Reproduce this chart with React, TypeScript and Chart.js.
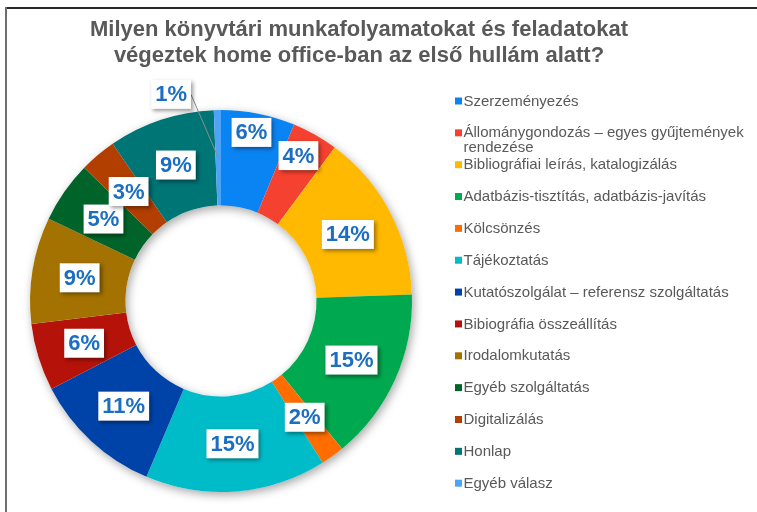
import React, { useEffect, useRef } from 'react';
import { Chart, registerables, layouts } from 'chart.js';

Chart.register(...registerables);

const titleLines = [
  'Milyen könyvtári munkafolyamatokat és feladatokat',
  'végeztek home office-ban az első hullám alatt?',
];

const categories = [
  'Szerzeményezés',
  'Állománygondozás – egyes gyűjtemények rendezése',
  'Bibliográfiai leírás, katalogizálás',
  'Adatbázis-tisztítás, adatbázis-javítás',
  'Kölcsönzés',
  'Tájékoztatás',
  'Kutatószolgálat – referensz szolgáltatás',
  'Bibiográfia összeállítás',
  'Irodalomkutatás',
  'Egyéb szolgáltatás',
  'Digitalizálás',
  'Honlap',
  'Egyéb válasz',
];

// share of answers (%); labels show rounded values
const values = [6.25, 3.9, 14.3, 14.6, 2.0, 15.3, 11.0, 5.7, 9.0, 5.2, 3.1, 9.0, 0.6];

const colors = [
  '#0B84F3', '#F5412F', '#FFB900', '#00A94F', '#FF6D00', '#00BCC8', '#0043A8',
  '#B5130A', '#A37200', '#00642A', '#B23E00', '#007575', '#4DA3F7',
];

const FONT = '"Liberation Sans", Arial, sans-serif';
const GREY = '#595959';

// label placement tweaks (radius factor relative to ring middle, angle shift in degrees)
const labelAdjust: Record<number, { r?: number; a?: number; leader?: boolean }> = {
  0: { r: 1.196, a: -1 },
  1: { r: 1.15, a: -1.5 },
  12: { r: 1.484, a: -12.5, leader: true },
};

const ringShadow = {
  id: 'ringShadow',
  beforeDatasetsDraw(chart: any) {
    const arc = chart.getDatasetMeta(0).data[0];
    if (!arc) return;
    const p = arc.getProps(['x', 'y', 'innerRadius', 'outerRadius'], true);
    const ctx = chart.ctx;
    ctx.save();
    ctx.shadowColor = 'rgba(0,0,0,0.35)';
    ctx.shadowBlur = 10;
    ctx.shadowOffsetX = 2;
    ctx.shadowOffsetY = 3;
    ctx.beginPath();
    ctx.arc(p.x, p.y, p.outerRadius, 0, Math.PI * 2);
    ctx.arc(p.x, p.y, p.innerRadius, 0, Math.PI * 2, true);
    ctx.fillStyle = '#ffffff';
    ctx.fill();
    ctx.restore();
  },
};

const pctLabels = {
  id: 'pctLabels',
  afterDatasetsDraw(chart: any) {
    const ctx = chart.ctx;
    const meta = chart.getDatasetMeta(0);
    ctx.save();
    ctx.font = `bold 22px ${FONT}`;
    ctx.textAlign = 'center';
    ctx.textBaseline = 'middle';
    meta.data.forEach((arc: any, i: number) => {
      const p = arc.getProps(['x', 'y', 'startAngle', 'endAngle', 'innerRadius', 'outerRadius'], true);
      const adj = labelAdjust[i] || {};
      const midA = (p.startAngle + p.endAngle) / 2;
      const midR = (p.innerRadius + p.outerRadius) / 2;
      const a = midA + ((adj.a || 0) * Math.PI) / 180;
      const r = midR * (adj.r || 1);
      const cx = p.x + Math.cos(a) * r;
      const cy = p.y + Math.sin(a) * r;
      const text = Math.round(values[i]) + '%';
      const w = ctx.measureText(text).width + 8;
      const h = 29;
      if (adj.leader) {
        ctx.save();
        ctx.strokeStyle = '#8c8c8c';
        ctx.lineWidth = 1;
        ctx.beginPath();
        ctx.moveTo(cx + w / 2, cy);
        ctx.lineTo(p.x + Math.cos(midA) * midR, p.y + Math.sin(midA) * midR);
        ctx.stroke();
        ctx.restore();
      }
      ctx.save();
      ctx.shadowColor = 'rgba(0,0,0,0.4)';
      ctx.shadowBlur = 4;
      ctx.shadowOffsetX = 2;
      ctx.shadowOffsetY = 2;
      ctx.fillStyle = '#ffffff';
      ctx.fillRect(cx - w / 2, cy - h / 2, w, h);
      ctx.restore();
      ctx.fillStyle = '#1B6EC2';
      ctx.fillText(text, cx, cy + 1);
    });
    ctx.restore();
  },
};

function wrapText(ctx: CanvasRenderingContext2D, text: string, maxW: number): string[] {
  const words = text.split(' ');
  const lines: string[] = [];
  let cur = '';
  for (const w of words) {
    const test = cur ? cur + ' ' + w : w;
    if (cur && ctx.measureText(test).width > maxW) {
      lines.push(cur);
      cur = w;
    } else cur = test;
  }
  if (cur) lines.push(cur);
  return lines;
}

const LEGEND_WIDTH = 276;

const sideLegend = {
  id: 'sideLegend',
  start(chart: any) {
    const box: any = {
      position: 'right',
      weight: 0,
      fullSize: false,
      options: { display: true, stack: undefined, stackWeight: 1 },
      left: 0, top: 0, right: 0, bottom: 0, width: 0, height: 0,
      update(_maxW: number, maxH: number) {
        this.width = LEGEND_WIDTH;
        this.height = maxH;
      },
      isHorizontal() {
        return false;
      },
      getPadding() {
        return { left: 0, right: 0, top: 0, bottom: 0 };
      },
      draw() {
        const ctx = chart.ctx;
        ctx.save();
        ctx.font = `15px ${FONT}`;
        ctx.textAlign = 'left';
        ctx.textBaseline = 'middle';
        const mx = this.left + 43;
        const tx = mx + 8.5;
        const maxW = chart.width - tx - 2;
        categories.forEach((label, i) => {
          const cy = this.top - 9 + i * 31.85;
          ctx.fillStyle = colors[i];
          ctx.fillRect(mx, cy - 3.5, 7, 7);
          ctx.fillStyle = GREY;
          wrapText(ctx, label, maxW).forEach((ln, j) => {
            ctx.fillText(ln, tx, cy + 0.5 + j * 14.5);
          });
        });
        ctx.restore();
      },
    };
    chart.$sideLegend = box;
    layouts.addBox(chart, box);
  },
  stop(chart: any) {
    if (chart.$sideLegend) layouts.removeBox(chart, chart.$sideLegend);
  },
};

function DonutChart() {
  const ref = useRef<HTMLCanvasElement>(null);
  useEffect(() => {
    if (!ref.current) return;
    const chart = new Chart(ref.current, {
      type: 'doughnut',
      data: {
        labels: categories,
        datasets: [
          {
            data: values,
            backgroundColor: colors,
            borderWidth: 0,
            hoverOffset: 0,
            offset: 0,
            spacing: 0,
          } as any,
        ],
      },
      options: {
        responsive: false,
        animation: false,
        devicePixelRatio: 1,
        cutout: '50%',
        layout: { padding: { left: 30, right: 69, top: 0, bottom: 20 } },
        plugins: {
          legend: { display: false },
          tooltip: { enabled: false },
          title: {
            display: true,
            text: titleLines,
            color: GREY,
            font: { family: FONT, size: 22, weight: 'bold', lineHeight: 1.16 },
            padding: { top: 17.5, bottom: 41.45 },
          },
        },
      } as any,
      plugins: [ringShadow, pctLabels, sideLegend],
    });
    return () => chart.destroy();
  }, []);
  return <canvas ref={ref} width={757} height={512} style={{ position: 'absolute', left: 0, top: 0, width: 757, height: 512 }} />;
}

export default function App() {
  return (
    <div style={{ position: 'fixed', left: 0, top: 0, width: 757, height: 512, background: '#ffffff', overflow: 'hidden' }}>
      <DonutChart />
      <div style={{ position: 'absolute', left: 5, top: 7, width: 752, height: 2, background: '#262626' }} />
      <div style={{ position: 'absolute', left: 5, top: 7, width: 2, height: 505, background: '#6e6e6e' }} />
    </div>
  );
}
